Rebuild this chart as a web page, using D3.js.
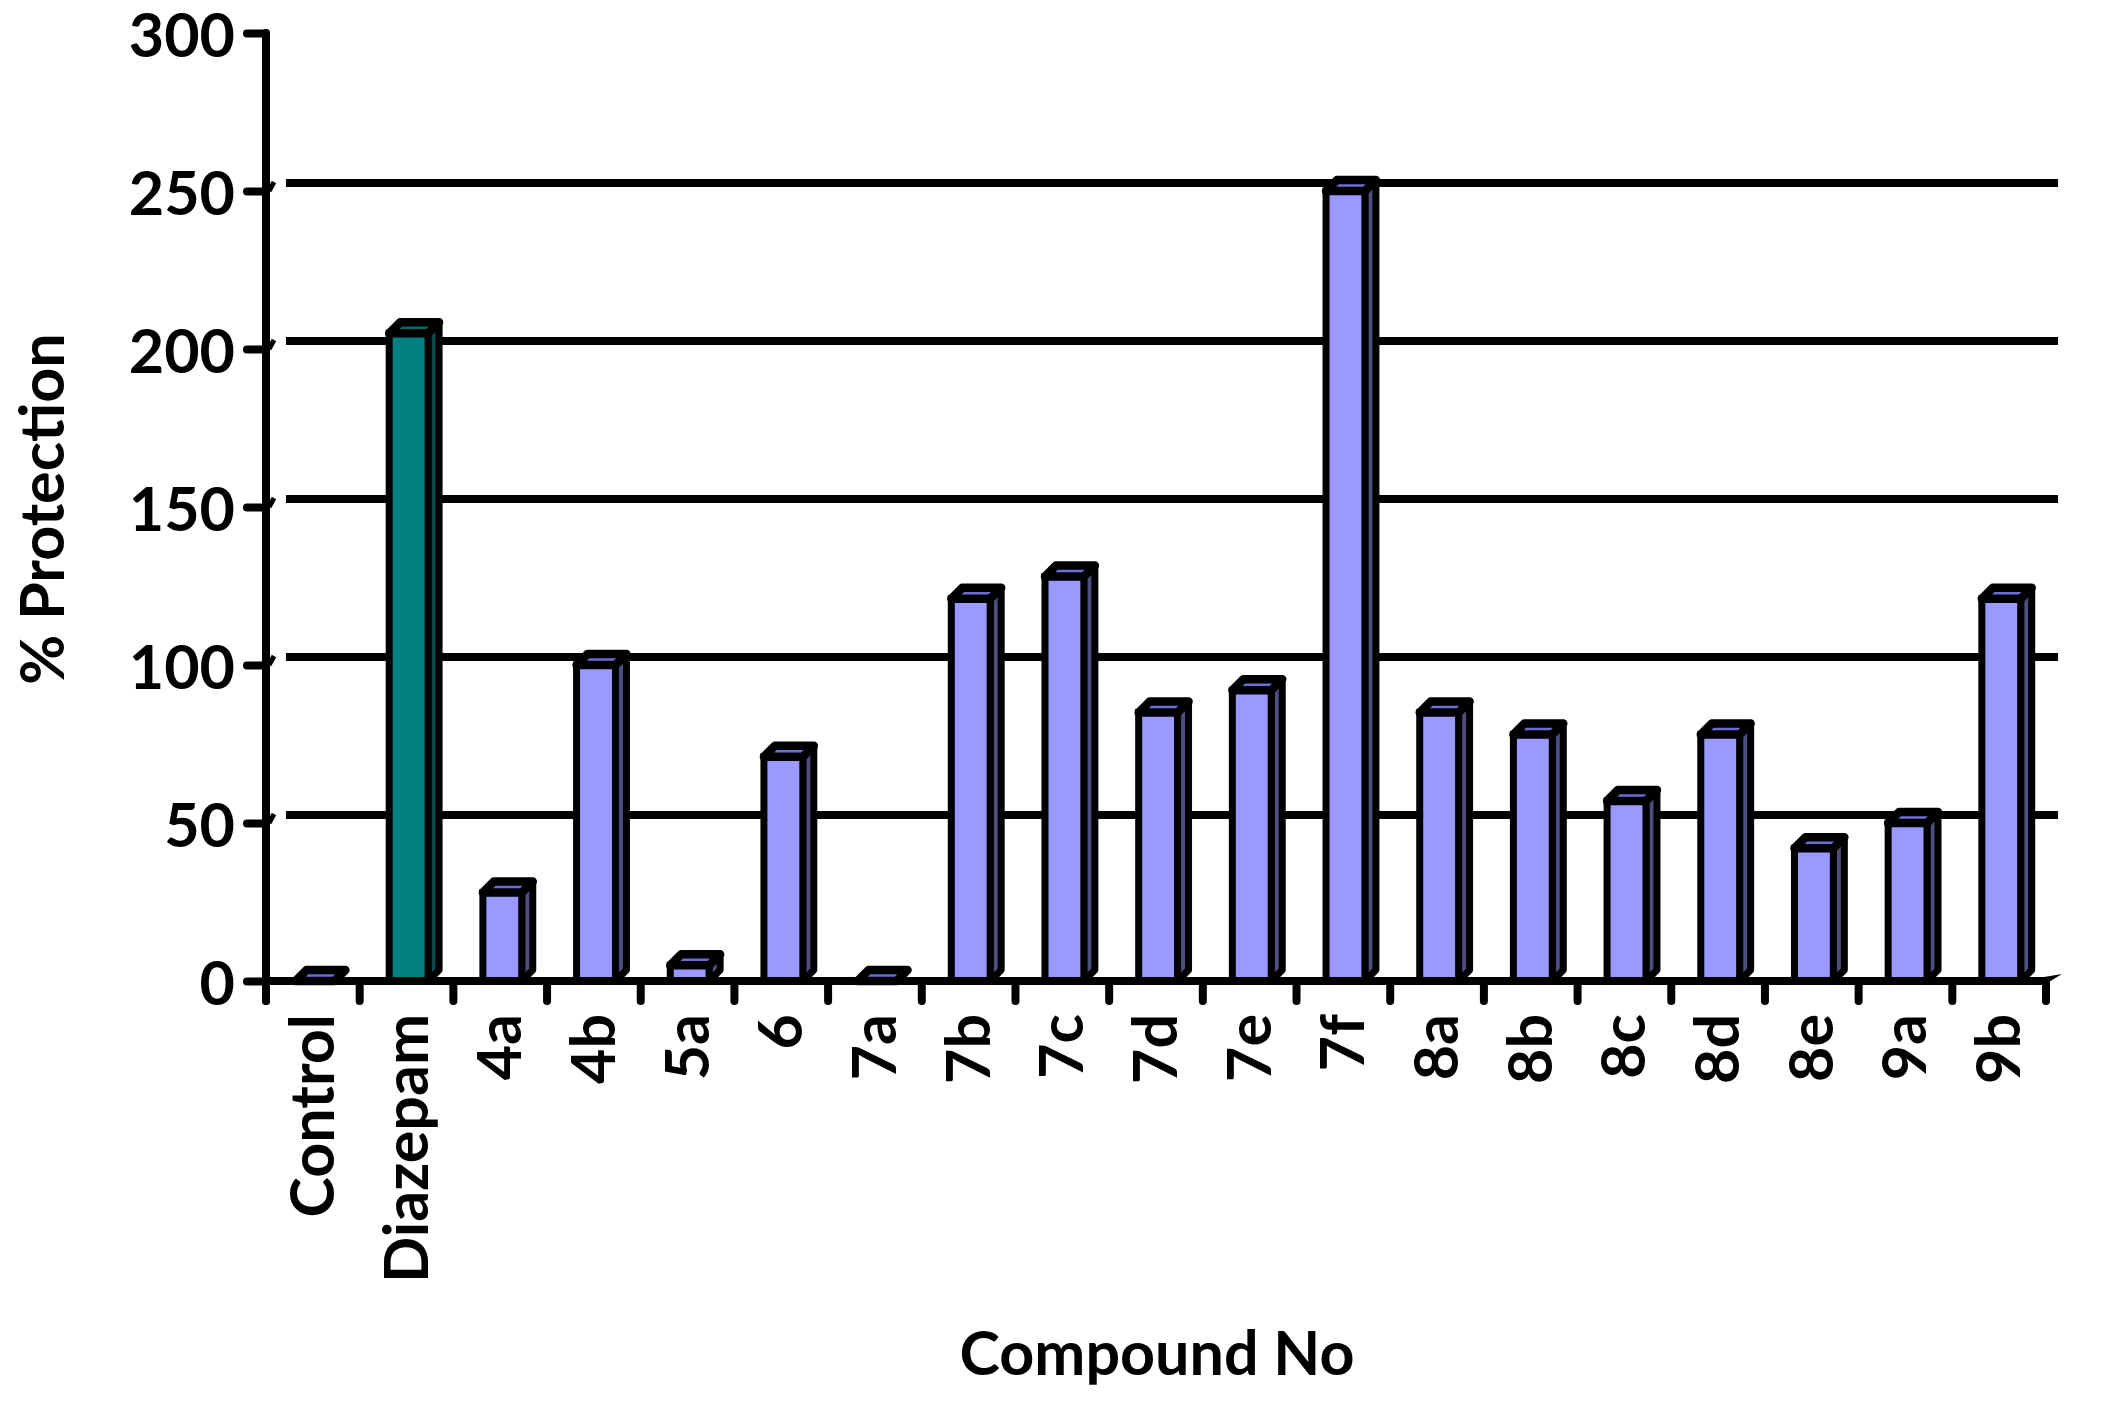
<!DOCTYPE html>
<html>
<head>
<meta charset="utf-8">
<script src="https://cdn.jsdelivr.net/npm/d3@7"></script>
<style>
  body { margin: 0; background: #fff; }
  text { font-family: Lato, "Open Sans", sans-serif; font-weight: bold; fill: #000; }
</style>
</head>
<body>
<script>
var categories = ["Control", "Diazepam", "4a", "4b", "5a", "6", "7a", "7b", "7c", "7d",
                  "7e", "7f", "8a", "8b", "8c", "8d", "8e", "9a", "9b"];
var values = [0, 205, 28, 100, 5, 71, 0, 121, 128, 85, 92, 250, 85, 78, 57, 78, 42, 50, 121];
var yTicks = [0, 50, 100, 150, 200, 250, 300];
var gridValues = [50, 100, 150, 200, 250];
var reference = "Diazepam";

var width = 2101, height = 1413;
var plotLeft = 266, plotRight = 2046, plotBase = 981, plotTop = 33;
var depthX = 11, depthY = 11;   // bar depth
var wallY = 8;                  // gridlines sit on the back wall
var fontSize = 61;

var svg = d3.select("body").append("svg")
    .attr("width", width)
    .attr("height", height);

var xScale = d3.scaleBand()
    .domain(categories)
    .range([plotLeft, plotRight]);

var yScale = d3.scaleLinear()
    .domain([0, 300])
    .range([plotBase, plotTop]);

var bw = xScale.bandwidth();

// gridlines on the back wall
svg.append("g").selectAll("line")
    .data(gridValues)
    .enter().append("line")
        .attr("x1", plotLeft + 20)
        .attr("x2", plotRight + 12)
        .attr("y1", function(d) { return yScale(d) - wallY; })
        .attr("y2", function(d) { return yScale(d) - wallY; })
        .attr("stroke", "#000")
        .attr("stroke-width", 8);

// little hooks where the wall meets the axis
svg.append("g").selectAll("line")
    .data(gridValues)
    .enter().append("line")
        .attr("x1", plotLeft + 3)
        .attr("x2", plotLeft + 8)
        .attr("y1", function(d) { return yScale(d); })
        .attr("y2", function(d) { return yScale(d) - 9; })
        .attr("stroke", "#000")
        .attr("stroke-width", 5);

// 3d bars
var bars = svg.append("g").selectAll("g")
    .data(values)
    .enter().append("g");

function colors(i) {
    if (categories[i] === reference) return { front: "#008080", side: "#0a4a4a", top: "#006a6a" };
    return { front: "#9999ff", side: "#4d4d80", top: "#6e6ed8" };
}

bars.each(function(d, i) {
    var g = d3.select(this);
    var xl = xScale(categories[i]) + bw * 0.315;
    var xr = xl + bw * 0.415;
    var yt = yScale(d);
    var c = colors(i);

    g.append("path")
        .attr("d", "M" + xr + "," + yt + "L" + (xr + depthX) + "," + (yt - depthY) +
                   "L" + (xr + depthX) + "," + (plotBase - depthY) + "L" + xr + "," + plotBase + "Z")
        .attr("fill", c.side)
        .attr("stroke", "#000")
        .attr("stroke-width", 7)
        .attr("stroke-linejoin", "round");

    if (d > 0) {
        g.append("rect")
            .attr("x", xl)
            .attr("y", yt)
            .attr("width", xr - xl)
            .attr("height", plotBase - yt)
            .attr("fill", c.front)
            .attr("stroke", "#000")
            .attr("stroke-width", 7);
    }

    g.append("path")
        .attr("d", "M" + xl + "," + yt + "L" + (xl + depthX) + "," + (yt - depthY) +
                   "L" + (xr + depthX) + "," + (yt - depthY) + "L" + xr + "," + yt + "Z")
        .attr("fill", c.top)
        .attr("stroke", "#000")
        .attr("stroke-width", 8.5)
        .attr("stroke-linejoin", "round");
});

// x axis line with its small slant at the end
svg.append("path")
    .attr("d", "M" + plotLeft + "," + plotBase + "L" + (plotRight + 4) + "," + plotBase)
    .attr("stroke", "#000")
    .attr("stroke-width", 8)
    .attr("fill", "none");
svg.append("path")
    .attr("d", "M" + (plotRight - 2) + "," + (plotBase + 4) + "L" + (plotRight + 16) + "," + (plotBase - 7) +
               "L" + (plotRight - 2) + "," + (plotBase - 4) + "Z")
    .attr("fill", "#000");

// x ticks at band edges
var edges = categories.map(function(c) { return xScale(c); }).concat([plotRight]);
svg.append("g").selectAll("line")
    .data(edges)
    .enter().append("line")
        .attr("x1", function(d) { return d; })
        .attr("x2", function(d) { return d; })
        .attr("y1", plotBase)
        .attr("y2", plotBase + 20)
        .attr("stroke", "#000")
        .attr("stroke-width", 8)
        .attr("stroke-linecap", "round");

// y axis
var yAxis = svg.append("g")
    .attr("transform", "translate(" + plotLeft + ",0)")
    .call(d3.axisLeft(yScale).tickValues(yTicks).tickSize(19).tickSizeOuter(0).tickPadding(12));
yAxis.select(".domain").remove();
yAxis.selectAll(".tick line")
    .attr("stroke", "#000")
    .attr("stroke-width", 8)
    .attr("stroke-linecap", "round");
yAxis.selectAll(".tick text")
    .attr("font-size", fontSize)
    .attr("font-family", "Lato, sans-serif")
    .attr("font-weight", "bold")
    .attr("fill", "#000")
    .attr("dy", "0.39em");
svg.append("line")
    .attr("x1", plotLeft).attr("x2", plotLeft)
    .attr("y1", yScale(300)).attr("y2", plotBase + 20)
    .attr("stroke", "#000")
    .attr("stroke-width", 8)
    .attr("stroke-linecap", "round");

// category labels
var xAxis = svg.append("g")
    .attr("transform", "translate(0," + plotBase + ")")
    .call(d3.axisBottom(xScale).tickSize(0).tickPadding(0));
xAxis.select(".domain").remove();
xAxis.selectAll(".tick text")
    .attr("font-size", fontSize)
    .attr("font-family", "Lato, sans-serif")
    .attr("font-weight", "bold")
    .attr("fill", "#000")
    .attr("text-anchor", "end")
    .attr("dy", null)
    .attr("y", 0)
    .attr("transform", "translate(21,33) rotate(-90)");

// axis titles
svg.append("text")
    .attr("transform", "translate(64,509) rotate(-90)")
    .attr("text-anchor", "middle")
    .attr("font-size", fontSize)
    .text("% Protection");

svg.append("text")
    .attr("x", 1157)
    .attr("y", 1375)
    .attr("text-anchor", "middle")
    .attr("font-size", fontSize)
    .text("Compound No");
</script>
</body>
</html>
